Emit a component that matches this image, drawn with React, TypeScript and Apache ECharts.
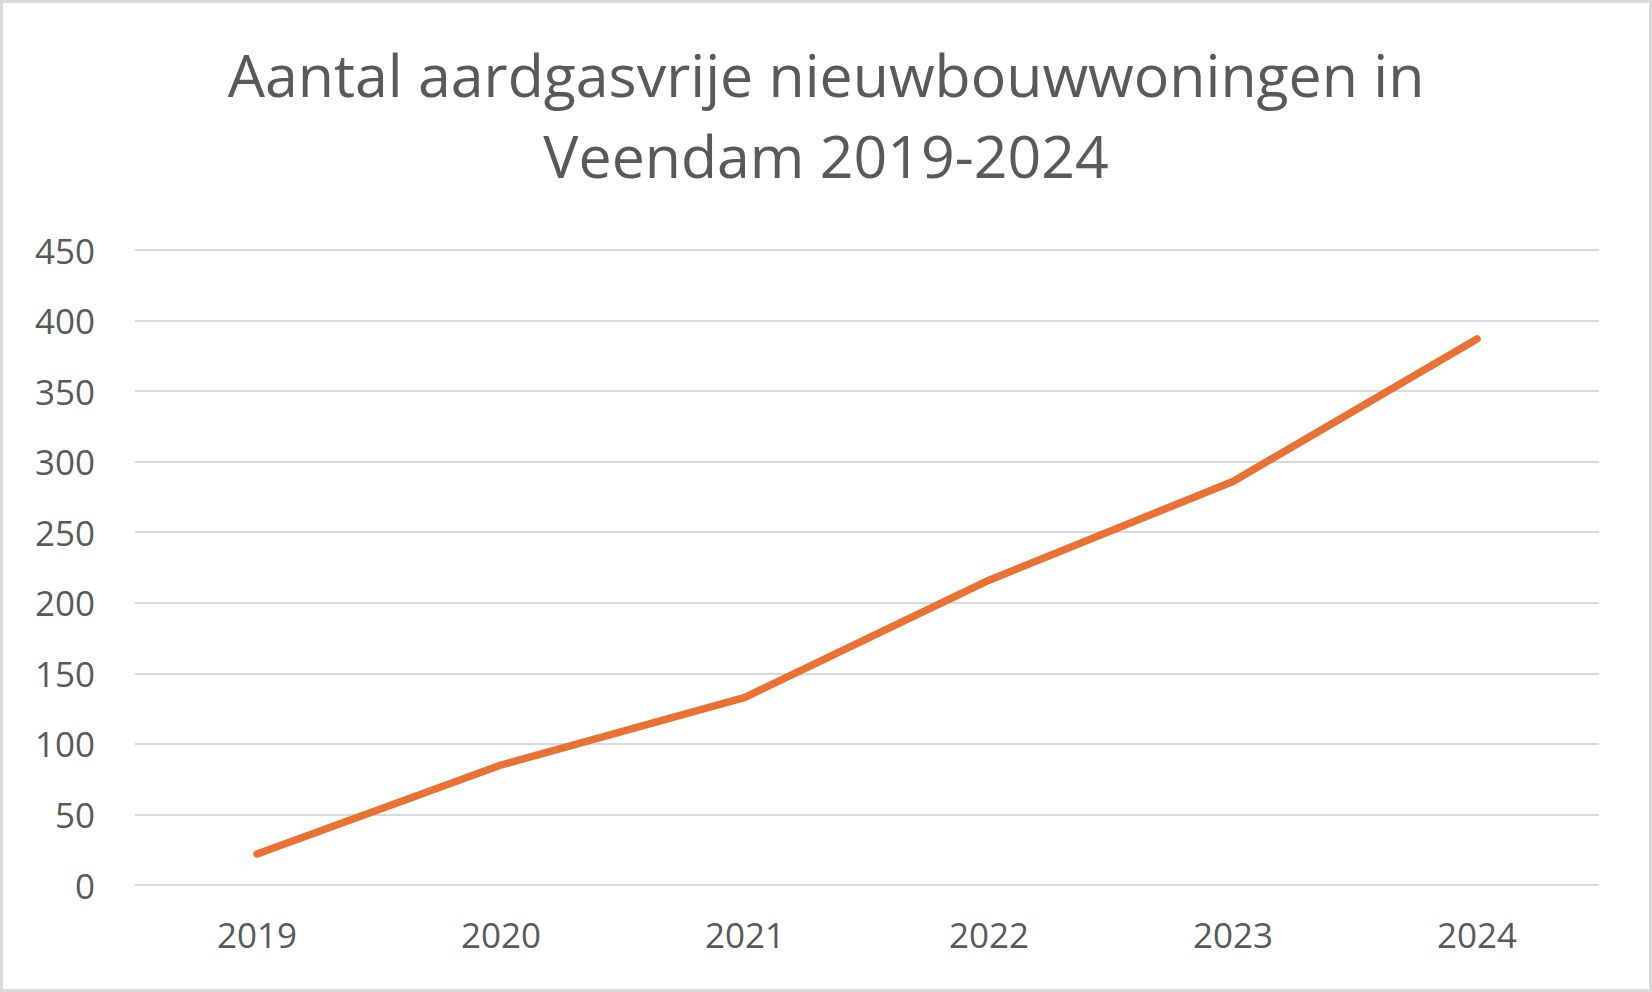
import React, { useEffect, useRef } from "react";
import * as echarts from "echarts";

const titleLines = ["Aantal aardgasvrije nieuwbouwwoningen in", "Veendam 2019-2024"];
const years = ["2019", "2020", "2021", "2022", "2023", "2024"];
const woningen = [22, 85, 133, 216, 286, 387];
const yMin = 0;
const yMax = 450;
const yStep = 50;

const FONT = "'Open Sans', 'Liberation Sans', sans-serif";
const TEXT = "#595959";

export default function App() {
  const ref = useRef<HTMLDivElement>(null);
  useEffect(() => {
    if (!ref.current) return;
    const chart = echarts.init(ref.current, undefined, { renderer: "svg" });
    chart.setOption({
      animation: false,
      backgroundColor: "#ffffff",
      textStyle: { fontFamily: FONT },
      title: {
        text: titleLines.join("\n"),
        left: "center",
        top: 28,
        textStyle: {
          fontFamily: FONT,
          fontSize: 59,
          fontWeight: "normal",
          color: TEXT,
          lineHeight: 81,
        },
      },
      graphic: [
        {
          type: "rect",
          shape: { x: 1.5, y: 1.5, width: 1649, height: 989 },
          style: { fill: "none", stroke: "#d9d9d9", lineWidth: 3 },
          silent: true,
        },
      ],
      grid: { left: 135, right: 53, top: 250, bottom: 107, containLabel: false },
      xAxis: {
        type: "category",
        data: years,
        boundaryGap: true,
        axisLine: { show: false },
        axisTick: { show: false },
        axisLabel: { color: TEXT, fontSize: 35, margin: 32, fontFamily: FONT },
      },
      yAxis: {
        type: "value",
        min: yMin,
        max: yMax,
        interval: yStep,
        axisLine: { show: false },
        axisTick: { show: false },
        axisLabel: { color: TEXT, fontSize: 35, margin: 40, fontFamily: FONT },
        splitLine: { lineStyle: { color: "#d9d9d9", width: 2 } },
      },
      series: [
        {
          type: "line",
          data: woningen,
          showSymbol: false,
          symbol: "none",
          lineStyle: { color: "#E97132", width: 7.5, cap: "round", join: "round" },
        },
      ],
    });
    return () => chart.dispose();
  }, []);
  return (
    <div
      ref={ref}
      style={{ position: "absolute", left: 0, top: 0, width: 1652, height: 992 }}
    />
  );
}
